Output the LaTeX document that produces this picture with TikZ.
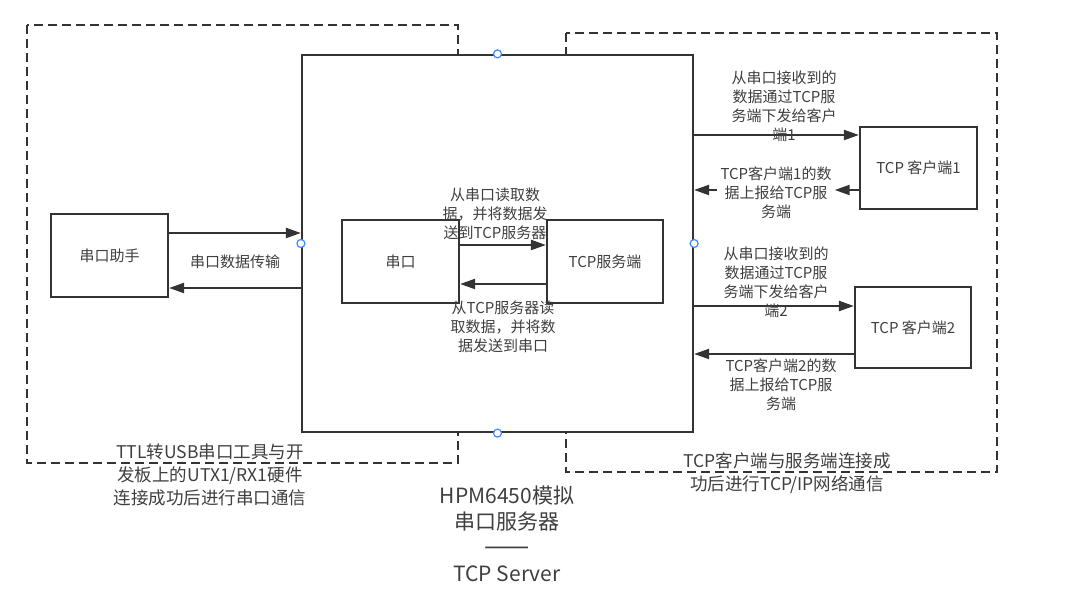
\documentclass[tikz,border=0pt]{standalone}
\usepackage{fontspec}
\setmainfont{Noto Sans CJK SC}
\usetikzlibrary{arrows.meta}
\definecolor{linec}{HTML}{333333}
\definecolor{textc}{HTML}{3F3F3F}
\definecolor{ptc}{HTML}{3D8BFF}
\begin{document}
\begin{tikzpicture}[x=1pt,y=-1pt,
  box/.style={draw=linec,line width=2.2pt,fill=white,inner sep=0pt,text=textc,
              font=\fontsize{15pt}{19pt}\selectfont},
  arr/.style={draw=linec,line width=2.2pt,-{Triangle[length=15pt,width=10pt]}},
  dashbox/.style={draw=linec,line width=2.2pt,dash pattern=on 9pt off 5pt},
  lab/.style={text=textc,align=center,inner sep=0pt,font=\fontsize{15pt}{19pt}\selectfont},
  note/.style={text=textc,align=center,inner sep=0pt,font=\fontsize{17.5pt}{23pt}\selectfont},
  ttl/.style={text=textc,align=center,inner sep=0pt,font=\fontsize{21pt}{26pt}\selectfont},
  pt/.style={draw=ptc,line width=1.2pt,fill=white}]
\useasboundingbox (0,0) rectangle (1080,593);
\fill[white] (0,0) rectangle (1080,593);

% dashed group frames
\draw[dashbox] (27,25) rectangle (458,463);
\draw[dashbox] (566,33) rectangle (997,472);

% main box
\node[box,minimum width=391pt,minimum height=377pt] (main) at (497.5,243.5) {};

% inner boxes
\node[box,minimum width=117pt,minimum height=83pt] (helper) at (109.5,255.5) {串口助手};
\node[box,minimum width=117pt,minimum height=83pt] (serial) at (400.5,261.5) {串口};
\node[box,minimum width=116pt,minimum height=83pt] (server) at (605,261.5) {TCP服务端};
\node[box,minimum width=117pt,minimum height=82pt] (c1) at (918.5,168) {TCP 客户端1};
\node[box,minimum width=116pt,minimum height=81pt] (c2) at (913,327.5) {TCP 客户端2};

% arrow levels
\coordinate (y1) at (0,233);
\coordinate (y2) at (0,288);
\coordinate (y3) at (0,245);
\coordinate (y4) at (0,284);
\coordinate (y5) at (0,135);
\coordinate (y6) at (0,190);
\coordinate (y7) at (0,306);
\coordinate (y8) at (0,354);

% label that breaks its connector
\node[lab,fill=white,inner xsep=3pt,inner ysep=1pt] (lbl5) at (776,192.5)
  {TCP客户端1的数\\据上报给TCP服\\务端};

% connectors
\draw[arr] (helper.east |- y1) -- (main.west |- y1);
\draw[arr] (main.west |- y2) -- (helper.east |- y2);
\draw[arr] (serial.east |- y3) -- (server.west |- y3);
\draw[arr] (server.west |- y4) -- (serial.east |- y4);
\draw[arr] (main.east |- y5) -- (c1.west |- y5);
\draw[arr] (c1.west |- y6) -- (lbl5.east |- y6);
\draw[arr] (lbl5.west |- y6) -- (main.east |- y6);
\draw[arr] (main.east |- y7) -- (c2.west |- y7);
\draw[arr] (c2.west |- y8) -- (main.east |- y8);

% labels
\node[lab] (lbl1) at (235,262) {串口数据传输};
\node[lab] (lbl2) at (495,213.5) {从串口读取数\\据，并将数据发\\送到TCP服务器};
\node[lab] (lbl3) at (503,327) {从TCP服务器读\\取数据，并将数\\据发送到串口};
\node[lab] (lbl4) at (784,106) {从串口接收到的\\数据通过TCP服\\务端下发给客户\\端1};
\node[lab] (lbl6) at (776,282) {从串口接收到的\\数据通过TCP服\\务端下发给客户\\端2};
\node[lab] (lbl7) at (781,385) {TCP客户端2的数\\据上报给TCP服\\务端};

\node[note] (note1) at (210,475) {TTL转USB串口工具与开\\发板上的UTX1/RX1硬件\\连接成功后进行串口通信};
\node[note] (note2) at (787,473.5) {TCP客户端与服务端连接成\\功后进行TCP/IP网络通信};
\node[ttl] (title) at (507,534) {HPM6450模拟\\串口服务器\\{\fontsize{27pt}{26pt}\selectfont ——}\\TCP Server};

% connection points
\foreach \a in {north,south,east,west}
  \draw[pt] (main.\a) circle (4pt);
\end{tikzpicture}
\end{document}
